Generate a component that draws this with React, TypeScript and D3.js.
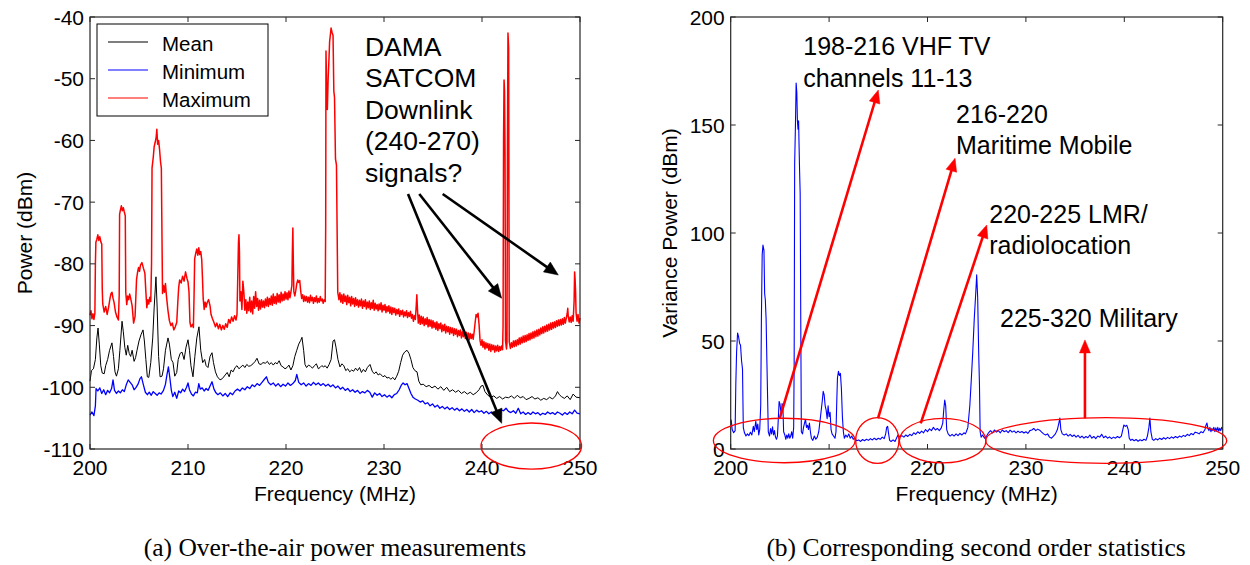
import React from 'react';
import * as d3 from 'd3';

// ---------- data ----------
const FREQ_TICKS = [200, 210, 220, 230, 240, 250];
const POWER_TICKS = [-110, -100, -90, -80, -70, -60, -50, -40];
const VARIANCE_TICKS = [0, 50, 100, 150, 200];

// [frequency MHz, power dBm]
const meanSeries: [number, number][] = [
  [200.0,-99.0],[200.15,-97.3],[200.35,-97.0],[200.55,-95.5],[200.7,-92],[200.82,-90.4],[200.95,-93],[201.1,-96.5],[201.25,-97.7],[201.45,-97.8],[201.6,-96.5],[201.8,-95.5],[202.0,-94],[202.24,-92.8],[202.4,-95],[202.55,-97.5],[202.7,-98.2],[202.9,-97],[203.05,-94],[203.27,-89.3],[203.4,-91],[203.55,-93.5],[203.7,-94.8],[203.85,-93.2],[204.0,-94.5],[204.15,-95],[204.3,-94],[204.5,-95.8],[204.65,-95.2],[204.8,-94],[205.0,-92.5],[205.2,-91.5],[205.41,-90.7],[205.55,-92.5],[205.7,-95.5],[205.85,-98.3],[206.0,-98.4],[206.2,-96],[206.4,-92],[206.55,-87],[206.73,-82.1],[206.85,-87],[207.0,-95],[207.15,-98.3],[207.35,-98.2],[207.5,-97],[207.7,-94],[207.96,-92],[208.1,-93],[208.3,-95.5],[208.47,-96],[208.65,-98.2],[208.85,-97.6],[209.0,-95.5],[209.2,-94.5],[209.39,-94.3],[209.6,-95.5],[209.8,-93.5],[210.0,-92.3],[210.15,-94],[210.3,-96.5],[210.51,-98.3],[210.7,-95],[210.9,-92],[211.12,-90.2],[211.3,-94],[211.5,-96],[211.7,-95.5],[211.85,-96.5],[212.04,-96.8],[212.25,-95],[212.45,-94.4],[212.6,-96],[212.8,-97.5],[213.0,-98.3],[213.27,-98.8],[213.5,-98.6],[213.8,-98],[214.0,-97.6],[214.2,-98.3],[214.4,-97.2],[214.6,-97.5],[214.8,-96.8],[215.0,-96.5],[215.2,-97],[215.4,-96.7],[215.6,-96.4],[215.8,-96.8],[216.0,-96.3],[216.2,-96.6],[216.4,-96.5],[216.63,-96.2],[216.85,-95.8],[217.04,-95.3],[217.25,-96.2],[217.45,-96.3],[217.65,-96],[217.9,-96.1],[218.1,-95.8],[218.3,-96.3],[218.5,-96],[218.7,-96.4],[218.9,-96],[219.1,-96.2],[219.3,-95.7],[219.5,-96.5],[219.69,-96.7],[219.9,-97],[220.1,-96.8],[220.3,-96.4],[220.5,-97.2],[220.7,-96.5],[220.9,-95],[221.1,-94],[221.3,-93],[221.5,-92.4],[221.63,-91.9],[221.8,-94],[221.94,-96.3],[222.1,-96.8],[222.3,-96.4],[222.5,-96.6],[222.7,-96.9],[222.9,-96.5],[223.1,-96.2],[223.3,-97],[223.47,-96.8],[223.65,-96.5],[223.85,-96.7],[224.0,-96.5],[224.2,-96.9],[224.4,-96.3],[224.6,-95.5],[224.8,-92.5],[224.95,-92.3],[225.1,-93.5],[225.3,-95.5],[225.51,-96.7],[225.7,-96.2],[225.9,-96.5],[226.1,-97.3],[226.3,-97],[226.5,-97.5],[226.7,-97.2],[226.9,-97.4],[227.1,-96.9],[227.3,-97.3],[227.5,-96.8],[227.7,-97.6],[227.9,-97.1],[228.1,-97.5],[228.3,-96.8],[228.57,-96.3],[228.8,-97.4],[229.0,-97.8],[229.2,-97.5],[229.4,-98],[229.6,-97.8],[229.9,-98.3],[230.1,-98.1],[230.3,-98.5],[230.5,-98.4],[230.7,-98.7],[230.9,-98.4],[231.1,-98.8],[231.3,-98.2],[231.5,-97.4],[231.7,-96],[231.9,-94.8],[232.1,-94.3],[232.35,-94.0],[232.55,-94.5],[232.75,-95.5],[232.95,-96.8],[233.15,-97.3],[233.37,-97.5],[233.55,-99.0],[233.75,-99.6],[234.0,-99.5],[234.3,-99.9],[234.6,-99.7],[234.9,-100.1],[235.2,-99.8],[235.5,-100.3],[235.8,-99.9],[236.1,-100.5],[236.4,-100],[236.7,-100.7],[237.0,-100.4],[237.3,-100.8],[237.6,-100.5],[237.9,-101],[238.2,-100.7],[238.5,-101.1],[238.8,-100.8],[239.1,-101.2],[239.4,-100.9],[239.7,-100.4],[239.9,-99.8],[240.1,-99.7],[240.3,-100.7],[240.6,-101.3],[240.9,-101.6],[241.2,-101.4],[241.5,-101.8],[241.8,-101.5],[242.1,-101.9],[242.4,-101.6],[242.7,-101.7],[243.0,-101.4],[243.3,-101.8],[243.6,-101.3],[243.9,-101.7],[244.2,-101.5],[244.5,-102],[244.8,-101.8],[245.1,-101.5],[245.4,-101.9],[245.7,-101.7],[246.0,-102.1],[246.3,-101.8],[246.6,-102],[246.9,-101.6],[247.2,-101.9],[247.5,-101.4],[247.7,-100.7],[247.9,-101.2],[248.1,-101.5],[248.4,-101.8],[248.7,-101.4],[249.0,-102],[249.3,-101.1],[249.6,-101.6],[250.0,-101.7]
];

const minimumSeries: [number, number][] = [
  [200.0,-104.5],[200.2,-104.0],[200.4,-104.6],[200.55,-103],[200.62,-100.2],[200.8,-100.6],[201.0,-100.1],[201.2,-101],[201.4,-100.4],[201.6,-101.2],[201.8,-100.5],[202.0,-100.9],[202.2,-100.2],[202.35,-98.8],[202.5,-100.5],[202.7,-101],[202.9,-100.6],[203.1,-100.9],[203.3,-100.4],[203.5,-100.7],[203.7,-99.6],[203.9,-98.8],[204.1,-99.2],[204.3,-99.6],[204.5,-100.4],[204.7,-100],[204.9,-99.5],[205.1,-98.6],[205.25,-98.3],[205.45,-99.6],[205.65,-100.8],[205.85,-101.2],[206.05,-100.8],[206.25,-101.3],[206.45,-100.7],[206.65,-101],[206.85,-101.3],[207.05,-100.9],[207.25,-101.1],[207.5,-100.5],[207.7,-99.5],[207.85,-98],[208.0,-96.7],[208.15,-98.5],[208.3,-100.5],[208.45,-101.5],[208.65,-100.8],[208.85,-101.8],[209.05,-100.6],[209.25,-100.9],[209.45,-100.3],[209.65,-100.7],[209.85,-100],[210.0,-99.3],[210.15,-100.4],[210.35,-101.1],[210.55,-101.4],[210.75,-100.8],[210.95,-100.9],[211.1,-99.4],[211.25,-100.3],[211.45,-100.1],[211.65,-100.6],[211.85,-100.2],[212.05,-100.5],[212.25,-99.8],[212.45,-99.1],[212.65,-100.3],[212.85,-100.9],[213.05,-101.2],[213.3,-100.9],[213.55,-101.4],[213.8,-101],[214.05,-101.5],[214.3,-100.9],[214.55,-101.2],[214.8,-100.6],[215.05,-100.3],[215.3,-100.6],[215.55,-100.1],[215.8,-100.4],[216.05,-99.9],[216.3,-100.2],[216.55,-99.6],[216.8,-99.9],[217.05,-99.4],[217.3,-99.7],[217.55,-99.2],[217.8,-98.7],[218.0,-98.3],[218.2,-99.2],[218.45,-99.6],[218.7,-99.3],[218.95,-99.8],[219.2,-99.4],[219.45,-99.9],[219.7,-99.5],[219.95,-99.8],[220.2,-99.3],[220.45,-99.7],[220.7,-99.4],[220.95,-98.9],[221.1,-97.9],[221.3,-99.2],[221.55,-99.6],[221.8,-99.3],[222.05,-99.8],[222.3,-99.4],[222.55,-99.7],[222.8,-99.2],[223.05,-99.6],[223.3,-99.3],[223.55,-99.7],[223.8,-99.4],[224.05,-99.8],[224.3,-99.5],[224.55,-99.9],[224.8,-99.6],[225.05,-100.1],[225.3,-99.8],[225.55,-100.3],[225.8,-100],[226.05,-100.5],[226.3,-100.2],[226.55,-100.7],[226.8,-100.4],[227.05,-100.8],[227.3,-100.5],[227.55,-101],[227.8,-100.7],[228.05,-100.9],[228.3,-100.5],[228.55,-100.8],[228.8,-101.6],[229.05,-100.9],[229.3,-101.3],[229.55,-101],[229.8,-101.5],[230.05,-101.2],[230.3,-101.6],[230.55,-101.3],[230.8,-101.7],[231.05,-101.2],[231.3,-101],[231.55,-100.4],[231.75,-99.7],[231.95,-99.3],[232.15,-99.6],[232.35,-99.4],[232.55,-100.2],[232.75,-101],[232.95,-101.6],[233.2,-101.9],[233.45,-102.1],[233.7,-102.4],[233.95,-102.2],[234.2,-102.7],[234.45,-102.5],[234.7,-103],[234.95,-102.7],[235.2,-103.2],[235.45,-102.9],[235.7,-103.4],[235.95,-103.1],[236.2,-103.5],[236.45,-103.2],[236.7,-103.6],[236.95,-103.3],[237.2,-103.7],[237.45,-103.4],[237.7,-103.8],[237.95,-103.5],[238.2,-103.9],[238.45,-103.6],[238.7,-104],[238.95,-103.6],[239.2,-104.1],[239.45,-103.7],[239.7,-104],[239.95,-103.8],[240.2,-104.2],[240.45,-103.9],[240.7,-104.3],[240.95,-104],[241.2,-104.4],[241.45,-103.9],[241.7,-104.2],[241.95,-103.7],[242.2,-103.8],[242.45,-103.4],[242.7,-103.9],[242.95,-104.1],[243.2,-103.8],[243.45,-104.2],[243.7,-103.4],[243.95,-104.3],[244.2,-104],[244.45,-104.4],[244.7,-104.1],[244.95,-104.4],[245.2,-104],[245.45,-104.3],[245.7,-104.1],[245.95,-104.5],[246.2,-104.2],[246.45,-104.4],[246.7,-104],[246.95,-104.3],[247.2,-104.1],[247.45,-104.4],[247.7,-104],[247.95,-104.2],[248.2,-104.5],[248.45,-104.1],[248.7,-104.4],[248.95,-104],[249.2,-104.3],[249.45,-103.7],[249.7,-104.2],[250.0,-104.3]
];

const maximumSeries: [number, number][] = [
  [200.0,-88.3],[200.1,-87.6],[200.2,-88.9],[200.3,-88.1],[200.4,-89.0],[200.5,-88.0],[200.55,-80],[200.6,-76.5],[200.7,-76.0],[200.8,-75.3],[200.9,-76.2],[201.0,-75.6],[201.1,-76.4],[201.2,-76.8],[201.25,-84],[201.3,-86.5],[201.45,-87.8],[201.6,-86.9],[201.75,-88.2],[201.9,-87.0],[202.05,-85.5],[202.15,-84.8],[202.25,-84.6],[202.35,-85.6],[202.45,-86.2],[202.6,-87.8],[202.75,-88.6],[202.9,-89.1],[202.98,-85],[203.02,-72],[203.1,-71.3],[203.2,-70.6],[203.3,-71.4],[203.4,-70.9],[203.5,-71.6],[203.6,-72.2],[203.65,-84.6],[203.75,-86.6],[203.85,-85.2],[203.95,-85.8],[204.05,-84.9],[204.15,-85.6],[204.3,-86.8],[204.45,-89.6],[204.6,-88.5],[204.75,-82.5],[204.85,-81.4],[204.95,-80.6],[205.05,-81.2],[205.15,-80.2],[205.3,-79.8],[205.45,-80.7],[205.6,-81.5],[205.7,-84.5],[205.8,-87.1],[205.9,-85.8],[206.0,-86.5],[206.1,-85.4],[206.2,-86.1],[206.28,-80],[206.33,-64.5],[206.45,-62.8],[206.55,-61.0],[206.65,-60.3],[206.75,-59.5],[206.82,-58.2],[206.9,-60.6],[207.0,-60.0],[207.1,-61.5],[207.2,-63.5],[207.28,-64.5],[207.33,-73],[207.4,-84.8],[207.5,-83.5],[207.6,-84.6],[207.7,-83.2],[207.8,-85.2],[207.95,-87.5],[208.1,-89.2],[208.25,-90.0],[208.4,-89.6],[208.55,-90.7],[208.7,-90.2],[208.85,-89.5],[208.95,-86.5],[209.05,-83.8],[209.15,-82.6],[209.3,-83.1],[209.45,-82.0],[209.6,-82.8],[209.75,-81.3],[209.9,-82.4],[210.0,-82.9],[210.1,-84.5],[210.2,-89.5],[210.3,-90.2],[210.45,-89.8],[210.55,-90.3],[210.62,-85],[210.68,-79.2],[210.8,-78.2],[210.9,-77.6],[211.0,-78.6],[211.1,-77.4],[211.2,-78.5],[211.3,-78.0],[211.4,-79.3],[211.47,-82],[211.55,-85.6],[211.65,-87.4],[211.75,-86.2],[211.85,-87.0],[211.95,-86.3],[212.1,-85.8],[212.25,-86.8],[212.35,-88.2],[212.5,-88.9],[212.65,-89.5],[212.8,-90.2],[212.95,-89.6],[213.1,-90.5],[213.25,-89.8],[213.4,-90.7],[213.55,-90.0],[213.7,-90.6],[213.85,-89.7],[214.0,-90.3],[214.15,-89.0],[214.3,-89.6],[214.45,-88.6],[214.6,-89.3],[214.75,-88.4],[214.9,-89.1],[215.0,-88.2],[215.08,-82],[215.15,-76.5],[215.2,-75.3],[215.25,-78],[215.3,-86],[215.4,-84.5],[215.5,-87.4],[215.6,-82.8],[215.7,-84.6],[215.8,-87.5],[215.9,-85.8],[216.0,-88.0],[216.1,-86.2],[216.2,-87.6],[216.3,-85.4],[216.4,-87.8],[216.5,-86.0],[216.6,-88.1],[216.7,-85.3],[216.8,-87.2],[216.9,-84.5],[217.0,-86.9],[217.1,-85.6],[217.2,-87.5],[217.3,-85.9],[217.4,-87.3],[217.5,-85.8],[217.6,-87.0],[217.7,-86.0],[217.8,-87.1],[217.9,-85.7],[218.0,-86.8],[218.1,-85.4],[218.2,-86.9],[218.3,-85.6],[218.4,-86.6],[218.5,-85.2],[218.6,-86.7],[218.7,-84.9],[218.8,-86.4],[218.9,-85.3],[219.0,-86.5],[219.1,-84.8],[219.2,-86.2],[219.3,-85.0],[219.4,-86.3],[219.5,-84.6],[219.6,-86.0],[219.7,-84.9],[219.8,-85.9],[219.9,-84.5],[220.0,-85.7],[220.1,-84.7],[220.2,-85.8],[220.3,-84.4],[220.4,-85.5],[220.5,-84.6],[220.6,-83.5],[220.65,-78],[220.7,-74.2],[220.75,-80],[220.8,-84.5],[220.9,-85.2],[221.0,-84.3],[221.1,-83.2],[221.2,-82.6],[221.3,-83.0],[221.4,-82.7],[221.5,-84.4],[221.6,-85.6],[221.7,-85.0],[221.8,-86.1],[221.9,-85.2],[222.0,-86.0],[222.1,-85.3],[222.2,-86.2],[222.3,-85.4],[222.4,-86.3],[222.5,-85.1],[222.6,-86.0],[222.7,-85.4],[222.8,-86.4],[222.9,-85.5],[223.0,-86.1],[223.1,-85.2],[223.2,-86.3],[223.3,-85.6],[223.4,-86.2],[223.5,-85.3],[223.6,-86.0],[223.7,-85.7],[223.8,-86.4],[223.9,-85.8],[224.0,-86.1],[224.05,-74],[224.08,-45.5],[224.15,-52],[224.22,-55],[224.3,-50],[224.38,-47],[224.45,-44],[224.52,-43],[224.6,-41.8],[224.7,-42.5],[224.8,-43],[224.88,-52],[224.95,-53],[225.05,-63],[225.15,-64],[225.22,-75],[225.28,-84.6],[225.4,-85.8],[225.5,-84.7],[225.6,-86.2],[225.7,-85.0],[225.8,-86.4],[225.9,-84.9],[226.0,-86.1],[226.1,-85.2],[226.2,-86.6],[226.3,-85.1],[226.4,-86.3],[226.5,-85.4],[226.6,-86.8],[226.7,-85.3],[226.8,-86.5],[226.9,-85.6],[227.0,-86.9],[227.1,-85.5],[227.2,-86.7],[227.3,-85.8],[227.4,-87.0],[227.5,-85.9],[227.6,-86.8],[227.7,-85.7],[227.8,-87.2],[227.9,-86.0],[228.0,-86.9],[228.1,-85.8],[228.2,-87.3],[228.3,-86.2],[228.4,-87.1],[228.5,-86.0],[228.6,-87.4],[228.7,-86.3],[228.8,-87.2],[228.9,-85.9],[229.0,-87.5],[229.1,-86.4],[229.2,-87.3],[229.3,-86.6],[229.4,-87.6],[229.5,-86.5],[229.6,-87.4],[229.7,-86.3],[229.8,-87.8],[229.9,-86.7],[230.0,-87.5],[230.1,-86.6],[230.2,-87.9],[230.3,-86.9],[230.4,-87.7],[230.5,-86.8],[230.6,-88.0],[230.7,-87.0],[230.8,-88.2],[230.9,-87.1],[231.0,-87.9],[231.1,-87.2],[231.2,-88.3],[231.3,-87.4],[231.4,-88.1],[231.5,-87.3],[231.6,-88.5],[231.7,-87.6],[231.8,-88.2],[231.9,-87.5],[232.0,-88.6],[232.1,-87.8],[232.2,-88.4],[232.3,-87.6],[232.4,-88.7],[232.5,-87.9],[232.6,-88.5],[232.7,-87.7],[232.8,-88.8],[232.9,-88.2],[233.0,-89.3],[233.1,-88.4],[233.2,-89.0],[233.3,-86.5],[233.35,-85.0],[233.42,-87.5],[233.5,-89.6],[233.6,-88.3],[233.7,-89.8],[233.8,-88.5],[233.9,-89.7],[234.0,-88.6],[234.1,-90.0],[234.2,-88.9],[234.3,-89.8],[234.4,-88.7],[234.5,-90.2],[234.6,-89.0],[234.7,-90.1],[234.8,-89.1],[234.9,-90.4],[235.0,-89.2],[235.1,-90.3],[235.2,-89.5],[235.3,-90.6],[235.4,-89.4],[235.5,-90.8],[235.6,-89.7],[235.7,-90.5],[235.8,-89.6],[235.9,-91.0],[236.0,-89.9],[236.1,-90.8],[236.2,-89.8],[236.3,-91.2],[236.4,-90.1],[236.5,-91.0],[236.6,-90.2],[236.7,-91.4],[236.8,-90.3],[236.9,-91.2],[237.0,-90.4],[237.1,-91.6],[237.2,-90.5],[237.3,-91.4],[237.4,-90.6],[237.5,-91.8],[237.6,-90.8],[237.7,-91.6],[237.8,-90.7],[237.9,-92.0],[238.0,-91.0],[238.1,-91.8],[238.2,-90.9],[238.3,-92.1],[238.4,-91.1],[238.5,-92.0],[238.6,-91.2],[238.7,-92.3],[238.8,-91.3],[238.9,-92.1],[239.0,-91.4],[239.1,-92.2],[239.2,-91.0],[239.3,-89.5],[239.4,-88.2],[239.5,-88.6],[239.6,-88.0],[239.7,-89.8],[239.8,-92.4],[239.9,-93.2],[240.0,-92.3],[240.1,-93.5],[240.2,-92.6],[240.3,-93.8],[240.4,-92.8],[240.5,-93.6],[240.6,-92.9],[240.7,-94.0],[240.8,-93.0],[240.9,-94.2],[241.0,-93.1],[241.1,-93.9],[241.2,-93.2],[241.3,-94.3],[241.4,-93.3],[241.5,-94.1],[241.6,-93.2],[241.7,-94.2],[241.8,-93.4],[241.9,-94.0],[242.0,-93.3],[242.1,-93.9],[242.15,-90],[242.2,-60],[242.25,-50.2],[242.3,-52],[242.35,-62],[242.4,-92.5],[242.5,-93.8],[242.55,-92.8],[242.6,-60],[242.65,-42.6],[242.72,-45],[242.78,-92.6],[242.9,-93.7],[243.0,-92.8],[243.1,-93.5],[243.2,-92.5],[243.3,-93.4],[243.4,-92.4],[243.5,-93.3],[243.6,-92.3],[243.7,-93.1],[243.8,-92.0],[243.9,-93.0],[244.0,-91.9],[244.1,-92.8],[244.2,-91.7],[244.3,-92.7],[244.4,-91.6],[244.5,-92.6],[244.6,-91.5],[244.7,-92.4],[244.8,-91.3],[244.9,-92.3],[245.0,-91.2],[245.1,-92.1],[245.2,-91.0],[245.3,-92.0],[245.4,-90.9],[245.5,-91.8],[245.6,-90.7],[245.7,-91.7],[245.8,-90.6],[245.9,-91.5],[246.0,-90.4],[246.1,-91.3],[246.2,-90.2],[246.3,-91.2],[246.4,-90.1],[246.5,-91.0],[246.6,-89.9],[246.7,-90.9],[246.8,-89.8],[246.9,-90.7],[247.0,-89.6],[247.1,-90.6],[247.2,-89.5],[247.3,-90.4],[247.4,-89.4],[247.5,-90.3],[247.6,-89.2],[247.7,-90.1],[247.8,-89.1],[247.9,-90.0],[248.0,-89.0],[248.1,-89.9],[248.2,-88.9],[248.3,-89.8],[248.4,-88.7],[248.5,-89.6],[248.6,-88.8],[248.7,-88.0],[248.75,-87.2],[248.8,-88.5],[248.9,-89.4],[249.0,-88.6],[249.1,-89.5],[249.2,-88.4],[249.3,-89.3],[249.4,-86],[249.45,-81.3],[249.5,-82.5],[249.55,-84.5],[249.6,-88.0],[249.7,-89.3],[249.8,-88.2],[249.9,-89.6],[250.0,-88.8]
];

// [frequency MHz, variance power]
const varianceSeries: [number, number][] = [
  [200.0,12],[200.05,13.4],[200.15,9],[200.3,7.5],[200.45,8.5],[200.52,30],[200.6,45],[200.7,53.7],[200.8,52],[200.9,49],[201.0,48],[201.1,41],[201.2,37],[201.28,10],[201.4,7.5],[201.55,6],[201.7,7],[201.85,6.2],[202.0,7.8],[202.15,6.5],[202.3,10.5],[202.4,8],[202.55,12.8],[202.65,9],[202.75,11.5],[202.85,6.5],[202.95,9],[203.05,20],[203.12,60],[203.2,90],[203.28,94.4],[203.38,92],[203.45,72],[203.52,69],[203.6,60],[203.68,40],[203.75,24],[203.82,8],[203.95,6],[204.05,9.5],[204.15,7],[204.25,10.3],[204.35,6.5],[204.45,8.5],[204.55,5.5],[204.65,4.5],[204.75,6],[204.85,15],[204.92,22],[205.0,21],[205.08,18],[205.15,16],[205.22,21],[205.3,20],[205.38,8],[205.5,6.5],[205.6,4.5],[205.7,6.5],[205.8,5],[205.9,7],[206.0,5],[206.1,6],[206.2,8],[206.3,5],[206.4,10],[206.45,40],[206.5,132],[206.58,150],[206.65,169.4],[206.72,165],[206.78,152],[206.84,148],[206.9,152],[206.95,140],[207.0,129],[207.06,118.5],[207.12,60],[207.18,8],[207.3,7],[207.4,10],[207.5,12],[207.6,13.7],[207.7,10],[207.8,11],[207.9,9],[208.0,12],[208.1,8],[208.2,5],[208.35,4],[208.5,6],[208.65,4.5],[208.8,5.5],[208.95,8],[209.05,12],[209.15,16],[209.3,22],[209.4,26.7],[209.5,25],[209.6,20],[209.7,18],[209.8,14],[209.9,20],[210.0,15],[210.1,17],[210.2,9],[210.3,7],[210.45,6],[210.6,5],[210.7,8],[210.78,22],[210.85,33],[210.95,36],[211.05,34],[211.15,35],[211.25,28],[211.35,15],[211.45,8],[211.55,5],[211.7,6.5],[211.85,5.5],[212.0,7],[212.15,5],[212.3,6],[212.45,4.5],[212.6,5],[212.8,3.8],[213.0,4.2],[213.2,3.5],[213.4,4.4],[213.6,3.8],[213.8,4.5],[214.0,4],[214.2,4.8],[214.4,4.2],[214.6,5],[214.8,4.3],[215.0,5],[215.2,4.5],[215.4,5.5],[215.6,4.8],[215.75,7],[215.85,10],[215.95,10.5],[216.05,7],[216.15,4],[216.3,3.5],[216.5,4.2],[216.7,3.5],[216.85,5],[217.0,6.5],[217.2,5.5],[217.4,6.2],[217.6,5.5],[217.8,6.5],[218.0,5.8],[218.2,6.8],[218.4,6.2],[218.6,7.5],[218.8,6.8],[219.0,8],[219.2,7.2],[219.4,8.3],[219.6,7.5],[219.8,9],[220.0,8],[220.2,9.3],[220.4,8.5],[220.6,10],[220.8,8.8],[221.0,9.5],[221.2,8.5],[221.4,9.8],[221.55,12],[221.65,18],[221.75,22.7],[221.85,20],[221.95,9],[222.1,7],[222.3,6],[222.5,6.8],[222.7,6],[222.9,7],[223.1,6.2],[223.3,7.2],[223.5,6.5],[223.7,7.5],[223.85,7],[223.95,8],[224.1,10],[224.3,20],[224.45,32],[224.6,45],[224.75,60],[224.9,72],[225.0,80.6],[225.1,70],[225.2,45],[225.28,30],[225.35,8],[225.45,5.5],[225.6,6.5],[225.8,5],[226.0,6],[226.2,7.5],[226.4,8.5],[226.6,7.5],[226.8,8.8],[227.0,7.8],[227.2,8.5],[227.4,7.5],[227.6,8.8],[227.8,8],[228.0,8.5],[228.2,7.6],[228.4,8.7],[228.6,7.8],[228.8,8.4],[229.0,7.5],[229.2,8.3],[229.4,7.6],[229.6,8.1],[229.8,7.4],[230.0,8],[230.2,7.2],[230.4,8.5],[230.6,8.8],[230.8,9.5],[231.0,8.5],[231.2,9.2],[231.4,8.7],[231.6,7.8],[231.8,7],[232.0,6.5],[232.2,7],[232.4,5.5],[232.6,5],[232.8,6],[233.0,7],[233.2,9],[233.35,12],[233.45,14.3],[233.55,9],[233.7,7],[233.9,6.5],[234.1,7],[234.3,6],[234.5,6.8],[234.7,5.8],[234.9,6.5],[235.1,5.5],[235.3,6.3],[235.5,5.2],[235.7,6],[235.9,5],[236.1,5.8],[236.3,5.2],[236.5,6.5],[236.7,5],[236.9,5.8],[237.1,4.8],[237.3,6],[237.5,5.5],[237.7,6.8],[237.9,5.2],[238.1,6],[238.3,5],[238.5,5.6],[238.7,4.8],[238.9,5.5],[239.1,5],[239.3,5.8],[239.5,5.2],[239.7,6],[239.85,9],[239.95,11.1],[240.1,10.5],[240.25,11],[240.4,9],[240.5,5],[240.65,4],[240.8,4.5],[241.0,3.8],[241.2,4.4],[241.4,3.6],[241.6,4.3],[241.8,3.8],[242.0,4.5],[242.2,4],[242.35,6],[242.5,10],[242.6,14.3],[242.7,8],[242.85,4.5],[243.0,4],[243.2,4.8],[243.4,4.2],[243.6,5],[243.8,4.4],[244.0,5.2],[244.2,4.6],[244.4,5.4],[244.6,4.8],[244.8,5.6],[245.0,5],[245.2,5.8],[245.4,5.2],[245.6,6],[245.8,5.5],[246.0,6.3],[246.2,5.8],[246.4,6.8],[246.6,6.2],[246.8,7.2],[247.0,6.6],[247.2,7.8],[247.4,7.5],[247.6,7],[247.8,8],[248.0,7.5],[248.2,9],[248.3,11],[248.4,12],[248.5,9.5],[248.6,8.5],[248.7,10],[248.8,8],[248.9,9.5],[249.0,8.5],[249.1,10],[249.2,8],[249.3,9.8],[249.4,8.4],[249.5,10],[249.6,8.2],[249.7,9.6],[249.8,8.5],[249.9,10],[250.0,9]
];

const legendLabels = ['Mean', 'Minimum', 'Maximum'];
const legendColors = ['#000000', '#0000ff', '#ff0000'];

// annotation texts and anchors (data coordinates)
const leftNoteLines = ['DAMA', 'SATCOM', 'Downlink', '(240-270)', 'signals?'];
const leftNoteAnchor: [number, number] = [228.06, -46.24];
const leftArrows: { from: [number, number]; to: [number, number] }[] = [
  { from: [232.45, -68.68], to: [242.01, -105.84] },
  { from: [233.6, -68.68], to: [242.01, -85.58] },
  { from: [235.99, -68.68], to: [247.79, -81.81] },
];
const leftEllipses: { c: [number, number]; r: [number, number] }[] = [
  { c: [245.03, -109.52], r: [5.13, 3.73] },
];

const rightNotes: { lines: string[]; at: [number, number] }[] = [
  { lines: ['198-216 VHF TV', 'channels 11-13'], at: [207.38, 182.4] },
  { lines: ['216-220', 'Maritime Mobile'], at: [222.9, 151] },
  { lines: ['220-225 LMR/', 'radiolocation'], at: [226.28, 104.8] },
  { lines: ['225-320 Military'], at: [227.37, 56.6] },
];
const rightArrows: { from: [number, number]; to: [number, number] }[] = [
  { from: [204.98, 14.2], to: [215.0, 166.2] },
  { from: [214.97, 14.2], to: [222.8, 134.6] },
  { from: [219.31, 11.9], to: [226.02, 103.7] },
  { from: [236.0, 14.2], to: [236.0, 50.5] },
];
const rightEllipses: { c: [number, number]; r: [number, number] }[] = [
  { c: [205.44, 3.94], r: [7.2, 10.3] },
  { c: [214.9, 3.94], r: [2.2, 10.6] },
  { c: [221.54, 3.84], r: [4.4, 10.3] },
  { c: [238.16, 3.94], r: [12.25, 10.6] },
];

// ---------- layout ----------
const SANS = "'Liberation Sans', Arial, sans-serif";
const SERIF = "'Liberation Serif', 'Times New Roman', serif";

const xL = d3.scaleLinear().domain([200, 250]).range([90, 580]);
const yL = d3.scaleLinear().domain([-110, -40]).range([449, 17]);
const xR = d3.scaleLinear().domain([200, 250]).range([730.7, 1222.7]);
const yR = d3.scaleLinear().domain([0, 200]).range([449, 17]);

type Sc = d3.ScaleLinear<number, number>;

function Arrow({ x1, y1, x2, y2, color, width, headLen, headW }: any) {
  const dx = x2 - x1, dy = y2 - y1;
  const len = Math.hypot(dx, dy);
  const ux = dx / len, uy = dy / len;
  const nx = -uy, ny = ux;
  const bx = x2 - ux * headLen, by = y2 - uy * headLen;
  const pts = `${x2},${y2} ${bx + nx * headW},${by + ny * headW} ${bx - nx * headW},${by - ny * headW}`;
  return (
    <g>
      <line x1={x1} y1={y1} x2={bx + ux * 1} y2={by + uy * 1} stroke={color} strokeWidth={width} />
      <polygon points={pts} fill={color} stroke={color} strokeWidth={0.5} />
    </g>
  );
}

function Frame({ x, y, xTicks, yTicks, xLabel, yLabel, yLabelX }: { x: Sc; y: Sc; xTicks: number[]; yTicks: number[]; xLabel: string; yLabel: string; yLabelX: number }) {
  const [x0, x1] = x.range();
  const [y1, y0] = y.range();
  const tl = 5;
  const axisColor = '#262626';
  return (
    <g>
      <rect x={x0} y={y0} width={x1 - x0} height={y1 - y0} fill="none" stroke={axisColor} strokeWidth={1.2} />
      {xTicks.map((t) => (
        <g key={'xt' + t}>
          <line x1={x(t)} x2={x(t)} y1={y1} y2={y1 - tl} stroke={axisColor} strokeWidth={1} />
          <line x1={x(t)} x2={x(t)} y1={y0} y2={y0 + tl} stroke={axisColor} strokeWidth={1} />
          <text x={x(t)} y={y1 + 26} textAnchor="middle" fontFamily={SANS} fontSize={21} fill="#000">{t}</text>
        </g>
      ))}
      {yTicks.map((t) => (
        <g key={'yt' + t}>
          <line x1={x0} x2={x0 + tl} y1={y(t)} y2={y(t)} stroke={axisColor} strokeWidth={1} />
          <line x1={x1} x2={x1 - tl} y1={y(t)} y2={y(t)} stroke={axisColor} strokeWidth={1} />
          <text x={x0 - 6} y={y(t)} dy="0.36em" textAnchor="end" fontFamily={SANS} fontSize={21} fill="#000">{t}</text>
        </g>
      ))}
      <text x={(x0 + x1) / 2} y={501} textAnchor="middle" fontFamily={SANS} fontSize={21} fill="#000">{xLabel}</text>
      <text transform={`translate(${yLabelX},${(y0 + y1) / 2}) rotate(-90)`} textAnchor="middle" fontFamily={SANS} fontSize={21} fill="#000">{yLabel}</text>
    </g>
  );
}

export default function App() {
  const lineL = d3.line<[number, number]>().x((d) => xL(d[0])).y((d) => yL(d[1]));
  const lineR = d3.line<[number, number]>().x((d) => xR(d[0])).y((d) => yR(d[1]));

  const leftSeries = [
    { data: maximumSeries, color: legendColors[2], w: 1.5 },
    { data: meanSeries, color: legendColors[0], w: 1 },
    { data: minimumSeries, color: legendColors[1], w: 1.3 },
  ];

  return (
    <svg width={1250} height={565} style={{ position: 'absolute', left: 0, top: 0, background: '#fff' }}>
      <rect x={0} y={0} width={1250} height={565} fill="#fff" />

      {/* ---------------- left panel ---------------- */}
      {leftSeries.map((s, i) => (
        <path key={i} d={lineL(s.data) || ''} fill="none" stroke={s.color} strokeWidth={s.w} strokeLinejoin="round" />
      ))}
      <Frame x={xL} y={yL} xTicks={FREQ_TICKS} yTicks={POWER_TICKS} xLabel="Frequency (MHz)" yLabel="Power (dBm)" yLabelX={32} />

      {/* legend */}
      <g>
        <rect x={97} y={24} width={171} height={92} fill="#fff" stroke="#000" strokeWidth={1} />
        {legendLabels.map((lab, i) => (
          <g key={lab}>
            <line x1={108} x2={148} y1={42 + i * 28} y2={42 + i * 28} stroke={legendColors[i]} strokeWidth={1.2} />
            <text x={162} y={50.5 + i * 28} fontFamily={SANS} fontSize={20.5} fill="#000">{lab}</text>
          </g>
        ))}
      </g>

      {/* left annotations */}
      <text fontFamily={SANS} fontSize={26.5} fill="#000">
        {leftNoteLines.map((t, i) => (
          <tspan key={t} x={xL(leftNoteAnchor[0])} y={yL(leftNoteAnchor[1]) + i * 31.5}>{t}</tspan>
        ))}
      </text>
      {leftArrows.map((a, i) => (
        <Arrow key={i} x1={xL(a.from[0])} y1={yL(a.from[1])} x2={xL(a.to[0])} y2={yL(a.to[1])} color="#000" width={2.6} headLen={14} headW={6} />
      ))}
      {leftEllipses.map((e, i) => (
        <ellipse key={i} cx={xL(e.c[0])} cy={yL(e.c[1])} rx={xL(e.c[0] + e.r[0]) - xL(e.c[0])} ry={yL(e.c[1]) - yL(e.c[1] + e.r[1])} fill="none" stroke="#ff0000" strokeWidth={1.3} />
      ))}

      {/* ---------------- right panel ---------------- */}
      <path d={lineR(varianceSeries) || ''} fill="none" stroke="#0000ff" strokeWidth={1.1} strokeLinejoin="round" />
      <Frame x={xR} y={yR} xTicks={FREQ_TICKS} yTicks={VARIANCE_TICKS} xLabel="Frequency (MHz)" yLabel="Variance Power (dBm)" yLabelX={677} />

      {rightEllipses.map((e, i) => (
        <ellipse key={i} cx={xR(e.c[0])} cy={yR(e.c[1])} rx={xR(e.c[0] + e.r[0]) - xR(e.c[0])} ry={yR(e.c[1]) - yR(e.c[1] + e.r[1])} fill="none" stroke="#ff0000" strokeWidth={1.3} />
      ))}
      {rightArrows.map((a, i) => (
        <Arrow key={i} x1={xR(a.from[0])} y1={yR(a.from[1])} x2={xR(a.to[0])} y2={yR(a.to[1])} color="#ff0000" width={2.6} headLen={13} headW={5.5} />
      ))}
      {rightNotes.map((n, k) => (
        <text key={k} fontFamily={SANS} fontSize={25} fill="#000">
          {n.lines.map((t, i) => (
            <tspan key={t} x={xR(n.at[0])} y={yR(n.at[1]) + i * 31.5}>{t}</tspan>
          ))}
        </text>
      ))}

      {/* captions */}
      <text x={335} y={556} textAnchor="middle" fontFamily={SERIF} fontSize={25.5} fill="#000">(a) Over-the-air power measurements</text>
      <text x={976} y={556} textAnchor="middle" fontFamily={SERIF} fontSize={25.5} fill="#000">(b) Corresponding second order statistics</text>
    </svg>
  );
}
